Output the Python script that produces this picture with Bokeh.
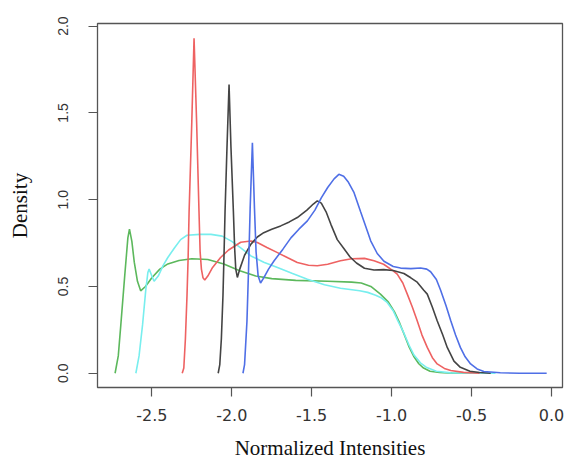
from bokeh.plotting import figure
from bokeh.models import Range1d, FixedTicker
from bokeh.embed import file_html
from bokeh.resources import INLINE

# ---- data ----
green_x = [-2.73, -2.71, -2.694, -2.669, -2.65, -2.64, -2.625, -2.61, -2.59, -2.57, -2.54, -2.50, -2.45,
           -2.40, -2.33, -2.25, -2.15, -2.05, -1.95, -1.85, -1.75, -1.6, -1.4, -1.25, -1.19, -1.13,
           -1.07, -1.02, -0.98, -0.95, -0.92, -0.89, -0.86, -0.83, -0.80, -0.76, -0.70, -0.62, -0.50]
green_y = [0.0, 0.1, 0.28, 0.57, 0.78, 0.83, 0.76, 0.64, 0.53, 0.475, 0.5, 0.55, 0.6,
           0.63, 0.65, 0.66, 0.655, 0.63, 0.59, 0.56, 0.545, 0.535, 0.53, 0.525, 0.52, 0.5,
           0.456, 0.41, 0.35, 0.29, 0.22, 0.15, 0.095, 0.055, 0.03, 0.012, 0.004, 0.001, 0.0]

cyan_x = [-2.60, -2.58, -2.558, -2.538, -2.525, -2.517, -2.50, -2.486, -2.46, -2.43, -2.40, -2.36,
          -2.32, -2.28, -2.2, -2.13, -2.06, -2.0, -1.94, -1.88, -1.8, -1.714, -1.62, -1.527, -1.42,
          -1.32, -1.2, -1.15, -1.10, -1.069, -1.03, -0.99, -0.96, -0.925, -0.89, -0.86, -0.82,
          -0.78, -0.72, -0.63, -0.35]
cyan_y = [0.0, 0.1, 0.28, 0.48, 0.58, 0.6, 0.56, 0.53, 0.56, 0.62, 0.667, 0.72,
          0.77, 0.795, 0.80, 0.80, 0.79, 0.76, 0.72, 0.676, 0.64, 0.609, 0.575, 0.542, 0.51,
          0.49, 0.475, 0.466, 0.45, 0.437, 0.41, 0.36, 0.3, 0.235, 0.16, 0.105, 0.06,
          0.033, 0.012, 0.002, 0.0]

red_x = [-2.31, -2.30, -2.29, -2.28, -2.273, -2.267, -2.25, -2.236, -2.22, -2.205, -2.198, -2.19,
         -2.18, -2.169, -2.15, -2.12, -2.07, -2.02, -1.944, -1.88, -1.84, -1.78, -1.714, -1.65,
         -1.59, -1.52, -1.465, -1.40, -1.32, -1.25, -1.17, -1.11, -1.05, -0.99, -0.965, -0.93,
         -0.902, -0.87, -0.84, -0.81, -0.777, -0.745, -0.715, -0.67, -0.63, -0.55, -0.45]
red_y = [0.0, 0.03, 0.2, 0.45, 0.667, 0.93, 1.45, 1.93, 1.45, 0.93, 0.70, 0.6,
         0.55, 0.537, 0.56, 0.61, 0.667, 0.71, 0.755, 0.762, 0.753, 0.725, 0.695, 0.665,
         0.638, 0.622, 0.619, 0.628, 0.648, 0.66, 0.662, 0.648, 0.628, 0.59, 0.571, 0.52,
         0.456, 0.38, 0.303, 0.22, 0.149, 0.09, 0.054, 0.028, 0.016, 0.005, 0.0]

black_x = [-2.085, -2.075, -2.065, -2.055, -2.048, -2.042, -2.03, -2.017, -2.005, -1.99, -1.982,
           -1.975, -1.965, -1.95, -1.92, -1.88, -1.84, -1.80, -1.75, -1.694, -1.64, -1.59, -1.53,
           -1.49, -1.465, -1.44, -1.41, -1.38, -1.34, -1.30, -1.26, -1.22, -1.17, -1.11, -1.05,
           -0.99, -0.923, -0.88, -0.84, -0.80, -0.777, -0.745, -0.715, -0.68, -0.652, -0.61,
           -0.57, -0.51, -0.45, -0.38]
black_y = [0.0, 0.05, 0.2, 0.45, 0.7, 0.935, 1.3, 1.663, 1.3, 0.935, 0.72,
           0.6, 0.552, 0.6, 0.68, 0.744, 0.785, 0.81, 0.83, 0.849, 0.872, 0.897, 0.94,
           0.975, 0.993, 0.98, 0.93, 0.858, 0.77, 0.72, 0.67, 0.635, 0.605, 0.595, 0.597,
           0.592, 0.575, 0.55, 0.525, 0.48, 0.456, 0.38, 0.303, 0.22, 0.149, 0.07,
           0.034, 0.012, 0.004, 0.0]

blue_x = [-1.93, -1.92, -1.905, -1.895, -1.885, -1.871, -1.858, -1.848, -1.835, -1.82, -1.80, -1.77,
          -1.735, -1.68, -1.63, -1.58, -1.527, -1.48, -1.44, -1.40, -1.36, -1.33, -1.30, -1.27,
          -1.235, -1.194, -1.152, -1.131, -1.09, -1.048, -0.99, -0.944, -0.88, -0.819, -0.78,
          -0.756, -0.72, -0.694, -0.66, -0.63, -0.60, -0.57, -0.54, -0.506, -0.465, -0.423,
          -0.32, -0.2, -0.03]
blue_y = [0.0, 0.05, 0.3, 0.6, 0.95, 1.328, 0.95, 0.7, 0.56, 0.52, 0.55, 0.6,
          0.648, 0.715, 0.78, 0.83, 0.878, 0.94, 1.01, 1.07, 1.12, 1.146, 1.135, 1.10,
          1.04, 0.93, 0.82, 0.763, 0.69, 0.645, 0.615, 0.606, 0.603, 0.606, 0.6,
          0.585, 0.54, 0.48, 0.39, 0.303, 0.22, 0.149, 0.095, 0.054, 0.025, 0.01,
          0.003, 0.0, 0.0]

x_ticks = [-2.5, -2.0, -1.5, -1.0, -0.5, 0.0]
x_tick_labels = ["-2.5", "-2.0", "-1.5", "-1.0", "-0.5", "0.0"]
y_ticks = [0.0, 0.5, 1.0, 1.5, 2.0]
y_tick_labels = ["0.0", "0.5", "1.0", "1.5", "2.0"]

series = [
    (green_x, green_y, "#5cb85c"),
    (cyan_x, cyan_y, "#78eeee"),
    (red_x, red_y, "#ee6262"),
    (black_x, black_y, "#444444"),
    (blue_x, blue_y, "#4f6fe6"),
]

p = figure(width=566, height=468, output_backend="svg", toolbar_location=None,
           x_range=Range1d(-2.84, 0.069), y_range=Range1d(-0.082, 2.015),
           min_border_left=97, min_border_right=4, min_border_top=23, min_border_bottom=81)

for xs, ys, c in series:
    p.line(xs, ys, line_color=c, line_width=1.6)

p.xgrid.visible = False
p.ygrid.visible = False
p.outline_line_color = "#555555"
p.outline_line_width = 1.3
p.background_fill_color = "white"
p.border_fill_color = "white"

p.xaxis.ticker = FixedTicker(ticks=x_ticks)
p.xaxis.major_label_overrides = dict(zip(x_ticks, x_tick_labels))
p.yaxis.ticker = FixedTicker(ticks=y_ticks)
p.yaxis.major_label_overrides = dict(zip(y_ticks, y_tick_labels))

for ax in (p.xaxis[0], p.yaxis[0]):
    ax.axis_line_color = None
    ax.major_tick_line_color = "#555555"
    ax.major_tick_line_width = 1.2
    ax.major_tick_in = 0
    ax.major_tick_out = 9
    ax.minor_tick_line_color = None
    ax.major_label_text_color = "#333333"
    ax.axis_label_text_color = "#111111"
    ax.axis_label_text_font = "Liberation Serif"
    ax.axis_label_text_font_style = "normal"
    ax.axis_label_text_font_size = "21px"

p.xaxis.axis_label = "Normalized Intensities"
p.xaxis.major_label_text_font = "DejaVu Sans"
p.xaxis.major_label_text_font_size = "16px"
p.xaxis.major_label_standoff = 12
p.xaxis.axis_label_standoff = 12

p.yaxis.axis_label = "Density"
p.yaxis.major_label_text_font = "Liberation Sans"
p.yaxis.major_label_text_font_size = "14px"
p.yaxis.major_label_orientation = "vertical"
p.yaxis.major_label_standoff = 20
p.yaxis.axis_label_standoff = 24

open("out.html", "w").write(file_html(p, INLINE))
